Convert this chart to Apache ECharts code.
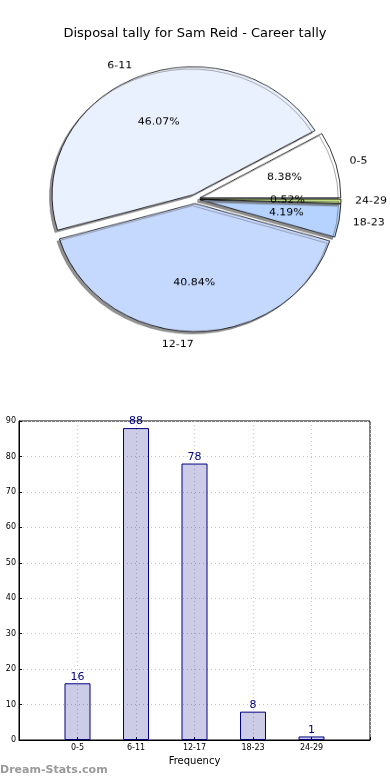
<!DOCTYPE html>
<html>
<head>
<meta charset="utf-8">
<script src="https://cdn.jsdelivr.net/npm/echarts@6/dist/echarts.min.js"></script>
<style>
html,body{margin:0;padding:0;background:#fff;}
#pie{position:absolute;left:0;top:0;width:390px;height:400px;transform:scaleY(0.908);transform-origin:195px 199px;}
#main{position:absolute;left:0;top:0;width:390px;height:780px;}
</style>
</head>
<body>
<div id="pie"></div>
<div id="main"></div>
<script>
const categories = ['0-5', '6-11', '12-17', '18-23', '24-29'];
const counts = [16, 88, 78, 8, 1];
const pieColors = ['#ffffff', '#eaf1fe', '#c5d8fe', '#b5d3fe', '#c8e585'];
const yTicks = [0, 10, 20, 30, 40, 50, 60, 70, 80, 90];
const titleText = 'Disposal tally for Sam Reid - Career tally';
const total = counts.reduce((a, b) => a + b, 0);

const FONT = 'DejaVu Sans';
const R = 141;

const pieData = categories.map((c, i) => ({
  name: c, value: counts[i], selected: true,
  itemStyle: { color: pieColors[i] }
}));

const pie = echarts.init(document.getElementById('pie'));
pie.setOption({
  animation: false,
  series: [
    {
      type: 'pie',
      center: [195, 199],
      radius: [0, R],
      startAngle: 0,
      clockwise: false,
      selectedMode: 'multiple',
      selectedOffset: 5,
      avoidLabelOverlap: false,
      data: pieData,
      itemStyle: {
        borderColor: '#000', borderWidth: 0.8,
        shadowColor: 'rgba(100,100,100,0.7)', shadowOffsetX: -2.5, shadowOffsetY: 2.5, shadowBlur: 0
      },
      label: {
        show: true, position: 'outside', color: '#000', fontFamily: FONT, fontSize: 11,
        distanceToLabelLine: 0,
        formatter: '{b}'
      },
      labelLine: { show: false, length: 14, length2: 0 },
      emphasis: { disabled: true }
    },
    {
      type: 'pie',
      center: [195, 199],
      radius: [R * 0.2, R],
      startAngle: 0,
      clockwise: false,
      selectedMode: 'multiple',
      selectedOffset: 5,
      avoidLabelOverlap: false,
      silent: true,
      data: pieData.map(d => ({ name: d.name, value: d.value, selected: true })),
      itemStyle: { color: 'rgba(0,0,0,0)', borderWidth: 0 },
      label: {
        show: true, position: 'inside', color: '#000', fontFamily: FONT, fontSize: 11,
        formatter: p => (p.value / total * 100).toFixed(2) + '%'
      },
      labelLine: { show: false },
      emphasis: { disabled: true }
    }
  ]
});

const main = echarts.init(document.getElementById('main'));
main.setOption({
  animation: false,
  title: {
    text: titleText, left: 'center', top: 22,
    textStyle: { fontFamily: FONT, fontSize: 13, fontWeight: 'normal', color: '#000' }
  },
  graphic: [{
    type: 'text', left: 0, top: 765,
    style: { text: 'Dream-Stats.com', fill: '#999999', font: 'bold 11px "DejaVu Sans"' }
  }],
  grid: {
    left: 19, right: 20, top: 421, bottom: 40,
    show: true, borderColor: '#000', borderWidth: 1, backgroundColor: 'transparent'
  },
  xAxis: {
    type: 'value', min: -1, max: 5, interval: 1,
    name: 'Frequency', nameLocation: 'middle', nameGap: 16,
    nameTextStyle: { fontFamily: FONT, fontSize: 10, color: '#000' },
    axisLine: { show: true, onZero: false, lineStyle: { color: '#000' } },
    axisTick: { show: true, inside: true, length: 3, lineStyle: { color: '#000' } },
    axisLabel: {
      fontFamily: FONT, fontSize: 8, color: '#000', margin: 4,
      formatter: v => categories[v] !== undefined ? categories[v] : ''
    },
    splitLine: { show: true, lineStyle: { color: '#c8c8c8', type: [1, 3], width: 1 } }
  },
  yAxis: {
    type: 'value', min: yTicks[0], max: yTicks[yTicks.length - 1], interval: 10,
    axisLine: { show: true, onZero: false, lineStyle: { color: '#000' } },
    axisTick: { show: true, inside: true, length: 3, lineStyle: { color: '#000' } },
    axisLabel: { fontFamily: FONT, fontSize: 8, color: '#000', margin: 3 },
    splitLine: { show: true, lineStyle: { color: '#c8c8c8', type: [1, 3], width: 1 } }
  },
  series: [{
    type: 'bar',
    data: counts.map((v, i) => [i, v]),
    barWidth: 26,
    itemStyle: { color: 'rgba(0,0,128,0.2)', borderColor: '#000080', borderWidth: 1 },
    label: {
      show: true, position: 'top', distance: 1, color: '#000080',
      fontFamily: FONT, fontSize: 11
    },
    emphasis: { disabled: true }
  }]
});
</script>
</body>
</html>
